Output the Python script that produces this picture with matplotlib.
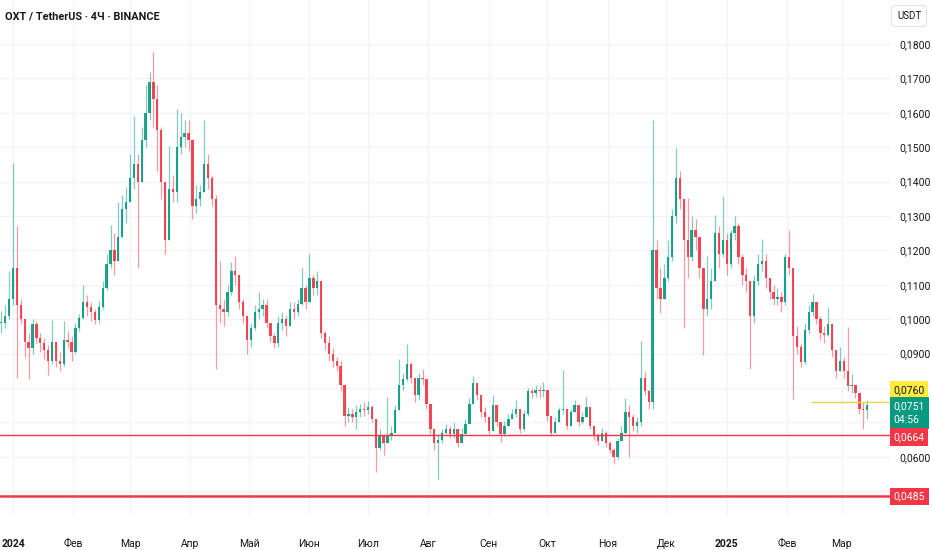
import numpy as np
import pandas as pd
import matplotlib
matplotlib.use("Agg")
import matplotlib.pyplot as plt
import matplotlib.dates as mdates
from matplotlib.transforms import blended_transform_factory

plt.rcParams["font.family"] = ["Roboto", "DejaVu Sans"]

# ── данные: 2-дневные свечи (open = close предыдущей) ──
START = "2023-12-26"
close = [0.0990, 0.1010, 0.1060, 0.1150, 0.1040, 0.1000, 0.0935, 0.0915, 0.0985, 0.0945,
         0.0930, 0.0910, 0.0880, 0.0935, 0.0880, 0.0870, 0.0940, 0.0935, 0.0905, 0.0975,
         0.1005, 0.1050, 0.1035, 0.1020, 0.0998, 0.1035, 0.1090, 0.1160, 0.1200, 0.1170,
         0.1240, 0.1320, 0.1340, 0.1410, 0.1450, 0.1400, 0.1520, 0.1600, 0.1690, 0.1640,
         0.1550, 0.1400, 0.1230, 0.1380, 0.1370, 0.1500, 0.1530, 0.1540, 0.1520, 0.1330,
         0.1350, 0.1370, 0.1450, 0.1410, 0.1350, 0.1040, 0.1030, 0.1020, 0.1080, 0.1140,
         0.1130, 0.1050, 0.1010, 0.0940, 0.0975, 0.1020, 0.1030, 0.1040, 0.0990, 0.0950,
         0.0930, 0.0990, 0.1000, 0.0980, 0.1030, 0.1020, 0.1045, 0.1090, 0.1050, 0.1120,
         0.1090, 0.1110, 0.0960, 0.0930, 0.0900, 0.0880, 0.0865, 0.0810, 0.0720, 0.0725,
         0.0715, 0.0730, 0.0740, 0.0735, 0.0745, 0.0710, 0.0625, 0.0660, 0.0640, 0.0660,
         0.0670, 0.0735, 0.0810, 0.0825, 0.0870, 0.0830, 0.0780, 0.0830, 0.0825, 0.0755,
         0.0680, 0.0640, 0.0650, 0.0670, 0.0680, 0.0665, 0.0680, 0.0640, 0.0665, 0.0695,
         0.0755, 0.0815, 0.0780, 0.0730, 0.0715, 0.0675, 0.0750, 0.0700, 0.0665, 0.0690,
         0.0710, 0.0725, 0.0740, 0.0680, 0.0725, 0.0790, 0.0785, 0.0795, 0.0790, 0.0795,
         0.0720, 0.0670, 0.0700, 0.0735, 0.0740, 0.0690, 0.0730, 0.0750, 0.0700, 0.0715,
         0.0745, 0.0690, 0.0660, 0.0645, 0.0670, 0.0640, 0.0620, 0.0600, 0.0645, 0.0670,
         0.0730, 0.0715, 0.0690, 0.0700, 0.0830, 0.0790, 0.0760, 0.1200, 0.1090, 0.1060,
         0.1120, 0.1180, 0.1300, 0.1410, 0.1350, 0.1230, 0.1180, 0.1260, 0.1240, 0.1150,
         0.1030, 0.1060, 0.1110, 0.1250, 0.1190, 0.1230, 0.1160, 0.1250, 0.1270, 0.1180,
         0.1130, 0.1110, 0.1010, 0.1110, 0.1160, 0.1170, 0.1120, 0.1080, 0.1060, 0.1065,
         0.1050, 0.1180, 0.1150, 0.0950, 0.0920, 0.0875, 0.0970, 0.1020, 0.1050, 0.1000,
         0.0960, 0.0955, 0.0985, 0.0910, 0.0850, 0.0880, 0.0850, 0.0805, 0.0810, 0.0785,
         0.0740, 0.0735, 0.0751]
high = [0.1025, 0.1040, 0.1140, 0.1455, 0.1270, 0.1060, 0.1000, 0.0960, 0.1000, 0.0995,
        0.0960, 0.0945, 0.0925, 0.0998, 0.0935, 0.0905, 0.0995, 0.0965, 0.0950, 0.0990,
        0.1015, 0.1100, 0.1070, 0.1050, 0.1030, 0.1055, 0.1110, 0.1190, 0.1275, 0.1250,
        0.1340, 0.1360, 0.1385, 0.1480, 0.1590, 0.1480, 0.1560, 0.1680, 0.1720, 0.1777,
        0.1680, 0.1560, 0.1380, 0.1505, 0.1420, 0.1610, 0.1600, 0.1580, 0.1580, 0.1500,
        0.1390, 0.1390, 0.1580, 0.1480, 0.1420, 0.1360, 0.1170, 0.1060, 0.1100, 0.1165,
        0.1185, 0.1110, 0.1060, 0.1010, 0.0990, 0.1040, 0.1080, 0.1060, 0.1060, 0.0990,
        0.0960, 0.1010, 0.1020, 0.1010, 0.1050, 0.1050, 0.1060, 0.1150, 0.1100, 0.1190,
        0.1130, 0.1140, 0.1110, 0.0965, 0.0950, 0.0915, 0.0890, 0.0880, 0.0780, 0.0745,
        0.0740, 0.0750, 0.0755, 0.0760, 0.0762, 0.0750, 0.0690, 0.0680, 0.0665, 0.0775,
        0.0690, 0.0750, 0.0885, 0.0845, 0.0927, 0.0875, 0.0830, 0.0845, 0.0855, 0.0815,
        0.0735, 0.0670, 0.0665, 0.0680, 0.0695, 0.0690, 0.0700, 0.0670, 0.0685, 0.0710,
        0.0770, 0.0835, 0.0815, 0.0775, 0.0745, 0.0710, 0.0780, 0.0750, 0.0700, 0.0705,
        0.0725, 0.0740, 0.0765, 0.0730, 0.0735, 0.0800, 0.0800, 0.0810, 0.0805, 0.0818,
        0.0790, 0.0700, 0.0715, 0.0745, 0.0852, 0.0730, 0.0740, 0.0765, 0.0740, 0.0730,
        0.0774, 0.0735, 0.0690, 0.0670, 0.0685, 0.0675, 0.0645, 0.0625, 0.0655, 0.0690,
        0.0770, 0.0750, 0.0725, 0.0715, 0.0936, 0.0850, 0.0795, 0.1580, 0.1230, 0.1150,
        0.1160, 0.1230, 0.1320, 0.1498, 0.1430, 0.1350, 0.1353, 0.1300, 0.1290, 0.1240,
        0.1150, 0.1185, 0.1150, 0.1304, 0.1270, 0.1358, 0.1250, 0.1260, 0.1300, 0.1280,
        0.1190, 0.1150, 0.1110, 0.1130, 0.1190, 0.1232, 0.1190, 0.1120, 0.1100, 0.1090,
        0.1080, 0.1190, 0.1258, 0.1150, 0.0980, 0.0930, 0.0990, 0.1040, 0.1074, 0.1050,
        0.1010, 0.0980, 0.1035, 0.0980, 0.0910, 0.0920, 0.0890, 0.0977, 0.0840, 0.0810,
        0.0785, 0.0760, 0.0765]
low = [0.0960, 0.0975, 0.1000, 0.1040, 0.0828, 0.0985, 0.0890, 0.0825, 0.0900, 0.0930,
       0.0905, 0.0885, 0.0838, 0.0870, 0.0860, 0.0850, 0.0865, 0.0915, 0.0880, 0.0900,
       0.0965, 0.1000, 0.1010, 0.0995, 0.0985, 0.0990, 0.1030, 0.1085, 0.1150, 0.1130,
       0.1180, 0.1240, 0.1280, 0.1350, 0.1380, 0.1150, 0.1420, 0.1500, 0.1580, 0.1560,
       0.1430, 0.1350, 0.1190, 0.1250, 0.1340, 0.1340, 0.1480, 0.1500, 0.1490, 0.1290,
       0.1310, 0.1330, 0.1380, 0.1380, 0.1330, 0.0855, 0.0990, 0.0980, 0.1010, 0.1070,
       0.1100, 0.1030, 0.0990, 0.0900, 0.0920, 0.0970, 0.1000, 0.1010, 0.0975, 0.0935,
       0.0915, 0.0920, 0.0970, 0.0950, 0.0980, 0.1000, 0.1010, 0.1040, 0.1030, 0.1050,
       0.1070, 0.1070, 0.0945, 0.0910, 0.0880, 0.0860, 0.0850, 0.0790, 0.0690, 0.0700,
       0.0700, 0.0680, 0.0715, 0.0720, 0.0725, 0.0700, 0.0557, 0.0620, 0.0605, 0.0640,
       0.0650, 0.0670, 0.0740, 0.0795, 0.0820, 0.0815, 0.0760, 0.0765, 0.0810, 0.0740,
       0.0665, 0.0620, 0.0537, 0.0640, 0.0665, 0.0655, 0.0655, 0.0630, 0.0650, 0.0670,
       0.0700, 0.0760, 0.0765, 0.0715, 0.0700, 0.0665, 0.0680, 0.0690, 0.0643, 0.0660,
       0.0690, 0.0710, 0.0715, 0.0670, 0.0675, 0.0720, 0.0770, 0.0775, 0.0770, 0.0775,
       0.0705, 0.0662, 0.0670, 0.0700, 0.0725, 0.0680, 0.0700, 0.0730, 0.0690, 0.0695,
       0.0720, 0.0680, 0.0650, 0.0635, 0.0645, 0.0630, 0.0610, 0.0580, 0.0595, 0.0645,
       0.0665, 0.0600, 0.0675, 0.0670, 0.0690, 0.0780, 0.0740, 0.0740, 0.1060, 0.1018,
       0.1060, 0.1110, 0.1170, 0.1280, 0.1320, 0.0975, 0.1120, 0.1170, 0.1200, 0.1120,
       0.0897, 0.1010, 0.1030, 0.1150, 0.1150, 0.1180, 0.1130, 0.1150, 0.1230, 0.1160,
       0.1100, 0.1080, 0.0854, 0.0990, 0.1100, 0.1140, 0.1090, 0.1060, 0.1040, 0.1040,
       0.1020, 0.1040, 0.1130, 0.0769, 0.0900, 0.0860, 0.0870, 0.0960, 0.1010, 0.0985,
       0.0940, 0.0930, 0.0950, 0.0890, 0.0830, 0.0850, 0.0830, 0.0790, 0.0785, 0.0770,
       0.0725, 0.0682, 0.0710]

PREV_CLOSE = 0.0760; LAST = 0.0751; TIMER = "04:56"
LEVELS = [0.0664, 0.0485]            # горизонтальные уровни (красные)
PREV_FROM = "2025-02-13"             # начало жёлтой линии
MONTHS = ["2024-01-01", "2024-02-01", "2024-03-01", "2024-04-01", "2024-05-01", "2024-06-01",
          "2024-07-01", "2024-08-01", "2024-09-01", "2024-10-01", "2024-11-01", "2024-12-01",
          "2025-01-01", "2025-02-01", "2025-03-01"]
MONTH_LBL = ["2024", "Фев", "Мар", "Апр", "Май", "Июн", "Июл", "Авг", "Сен", "Окт", "Ноя", "Дек",
             "2025", "Фев", "Мар"]
YTICKS = [0.05, 0.06, 0.07, 0.08, 0.09, 0.10, 0.11, 0.12, 0.13, 0.14, 0.15, 0.16, 0.17, 0.18]
HIDDEN = (0.05, 0.07, 0.08)          # подписи закрыты метками цены

UP, DN, TXT, GRID = "#089981", "#F23645", "#131722", "#F0F3FA"

c = np.array(close); h = np.array(high); l = np.array(low)
o = np.r_[c[0], c[:-1]]
h = np.maximum(h, np.maximum(o, c)); l = np.minimum(l, np.minimum(o, c))
x = mdates.date2num(pd.date_range(START, periods=len(c), freq="2D"))
col = np.where(c >= o, UP, DN)

fig = plt.figure(figsize=(9.32, 5.5), dpi=100)
ax = fig.add_axes([0, 35 / 550, 890 / 932, 515 / 550])
d0 = mdates.date2num(pd.Timestamp("2024-01-01"))
ax.set_xlim(d0 - 6.67, d0 + 449.7)
ax.set_ylim(0.0431, 0.1928)

# свечи
ax.vlines(x, l, h, colors=col, lw=0.9, alpha=0.5, zorder=3)
ax.bar(x, np.maximum(np.abs(c - o), 0.0002), bottom=np.minimum(o, c), width=1.2, color=col, lw=0, alpha=0.9, zorder=4)

# уровни
ax.axhline(LEVELS[0], color=DN, lw=1.0, zorder=5)
ax.axhline(LEVELS[1], color=DN, lw=1.8, zorder=5)
ax.hlines(PREV_CLOSE, mdates.date2num(pd.Timestamp(PREV_FROM)), ax.get_xlim()[1], color="#F5D33A", lw=1.0, zorder=5)

# оси
ax.set_xticks(mdates.date2num(pd.to_datetime(MONTHS)))
ax.set_xticklabels(MONTH_LBL)
ax.set_yticks(YTICKS)
ax.set_yticklabels(["" if round(v, 2) in HIDDEN else f"{v:.4f}".replace(".", ",") for v in YTICKS])
ax.yaxis.tick_right()
ax.tick_params(axis="both", length=0, colors=TXT, labelsize=7.5)
ax.tick_params(axis="x", pad=17)
ax.tick_params(axis="y", pad=7)
for t in ax.get_xticklabels():
    if t.get_text() in ("2024", "2025"):
        t.set_fontweight("bold")
ax.grid(color=GRID, lw=0.9, zorder=0)
for s in ax.spines.values():
    s.set_visible(False)

# метки цены справа
tr = blended_transform_factory(ax.transAxes, ax.transData)
py = lambda ypx: 0.18 - (ypx - 44) / 3440          # пиксель -> цена (для разнесённых меток)
kw = dict(transform=tr, ha="left", va="center", fontsize=7.5, zorder=10, clip_on=False)
ax.text(1.004, py(390), f"{PREV_CLOSE:.4f}".replace(".", ","), color=TXT,
        bbox=dict(boxstyle="square,pad=0.35", fc="#FFEB3B", ec="none"), **kw)
ax.text(1.004, py(413), f"{LAST:.4f}".replace(".", ",") + "\n" + TIMER, color="white", linespacing=1.5,
        bbox=dict(boxstyle="square,pad=0.35", fc=UP, ec="none"), **kw)
ax.text(1.004, py(437), f"{LEVELS[0]:.4f}".replace(".", ","), color="white",
        bbox=dict(boxstyle="square,pad=0.35", fc=DN, ec="none"), **kw)
ax.text(1.004, LEVELS[1], f"{LEVELS[1]:.4f}".replace(".", ","), color="white",
        bbox=dict(boxstyle="square,pad=0.35", fc=DN, ec="none"), **kw)

fig.text(5 / 932, 1 - 17 / 550, "OXT / TetherUS · 4Ч · BINANCE", fontsize=7.8, fontweight="bold", color=TXT, va="center")
fig.text(909 / 932, 1 - 16 / 550, "USDT", fontsize=7, color=TXT, ha="center", va="center",
         bbox=dict(boxstyle="round,pad=0.55,rounding_size=0.3", fc="white", ec="#E0E3EB", lw=0.8))

fig.savefig("out.png", dpi=100, facecolor="white")
